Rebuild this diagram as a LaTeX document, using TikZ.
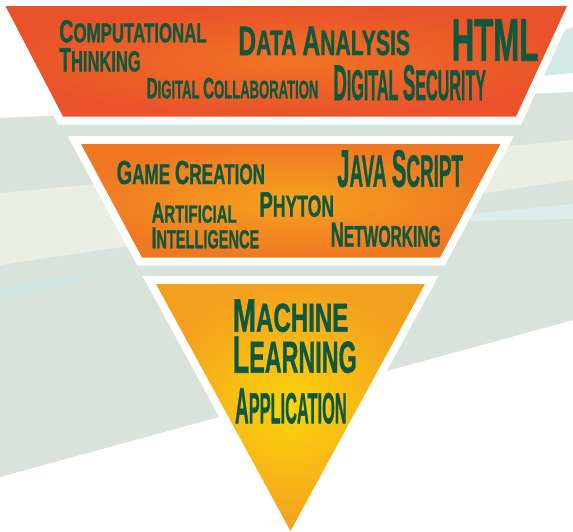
\documentclass[tikz,border=0pt]{standalone}
\usepackage{fontspec}
\usepackage{graphicx}
\newfontfamily\hfont{Liberation Sans}[BoldFeatures={FakeBold=1.2}]
\definecolor{tgreen}{RGB}{14,88,62}
\definecolor{bggrey}{HTML}{D8E3DC}
\definecolor{bglight}{HTML}{E9EFE3}
\definecolor{bgcyan}{HTML}{D3EAE6}
\definecolor{streak}{HTML}{CFE6E3}
\definecolor{rAin}{HTML}{F27324}
\definecolor{rAout}{HTML}{E9522A}
\definecolor{rBin}{HTML}{F7A21F}
\definecolor{rBout}{HTML}{EF7823}
\definecolor{rCin}{HTML}{FCD40B}
\definecolor{rCout}{HTML}{F4A01F}
\newcommand\Bg[1]{{\fontsize{12}{12}\selectfont #1}}
\newcommand\fitto[3]{\resizebox{#1pt}{#2pt}{\fontsize{10.3}{12}\selectfont #3}}
\tikzset{
  lbl/.style={anchor=north west, inner sep=0pt, outer sep=0pt, text=tgreen, font=\hfont\bfseries},
  rim/.style={draw=white, line width=16pt, line join=miter},
}
\begin{document}
\begin{tikzpicture}[x=1pt,y=-1pt]
\useasboundingbox (0,0) rectangle (573,531);
\clip (0,0) rectangle (573,531);
\fill[white] (0,0) rectangle (573,531);
% background decoration
\fill[bggrey] (0,118) -- (573,92) -- (573,320) -- (0,477) -- cycle;
\fill[bglight] (0,193) -- (573,140) -- (573,180) -- (0,265) -- cycle;
\fill[streak] (0,288) -- (112,271) -- (0,300) -- cycle;
\fill[streak!70!white] (470,214) -- (573,204) -- (573,219) -- (470,221) -- cycle;
\fill[bgcyan] (540,40) -- (573,27) -- (573,73) -- (540,76) -- cycle;
% corner points
\coordinate (a1) at (5.5,6);   \coordinate (a2) at (567,6);
\coordinate (a3) at (516,116.5); \coordinate (a4) at (63,116.5);
\coordinate (b1) at (81,144);  \coordinate (b2) at (500.5,144);
\coordinate (b3) at (440,257.5); \coordinate (b4) at (142,257.5);
\coordinate (c1) at (156,284); \coordinate (c2) at (425,284);
\coordinate (c3) at (290.5,531);
% white rims
\path[rim] (a1) -- (a2) -- (a3) -- (a4) -- cycle;
\path[rim] (b1) -- (b2) -- (b3) -- (b4) -- cycle;
\path[rim] (c1) -- (c2) -- (c3) -- cycle;
% shaded levels
\shade[inner color=rAin, outer color=rAout] (a1) -- (a2) -- (a3) -- (a4) -- cycle;
\shade[inner color=rBin, outer color=rBout] (b1) -- (b2) -- (b3) -- (b4) -- cycle;
\shade[inner color=rCin, outer color=rCout] (c1) -- (c2) -- (c3) -- cycle;
% top level texts
\node[lbl] (comp) at (59.3,20) {\fitto{147.4}{22.3}{\Bg{C}OMPUTATIONAL}};
\node[lbl] (think) at (59.3,48) {\fitto{81.4}{23.5}{\Bg{T}HINKING}};
\node[lbl] (data) at (238.3,26.7) {\fitto{171.7}{28.3}{\Bg{D}ATA \Bg{A}NALYSIS}};
\node[lbl] (html) at (451.7,19.3) {\fitto{86.6}{41.4}{\Bg{HTML}}};
\node[lbl] (collab) at (146.7,77.7) {\fitto{171.6}{20.6}{\Bg{D}IGITAL \Bg{C}OLLABORATION}};
\node[lbl] (secur) at (333.3,65) {\fitto{152.7}{35}{\Bg{D}IGITAL \Bg{S}ECURITY}};
% middle level texts
\node[lbl] (game) at (116.7,160.7) {\fitto{148.3}{23.3}{\Bg{G}AME \Bg{C}REATION}};
\node[lbl] (java) at (337.3,150) {\fitto{125.7}{36.7}{\Bg{J}AVA \Bg{S}CRIPT}};
\node[lbl] (phyton) at (259.3,192.3) {\fitto{74.7}{24.4}{\Bg{P}HYTON}};
\node[lbl] (artif) at (151.7,202.7) {\fitto{85}{20}{\Bg{A}RTIFICIAL}};
\node[lbl] (intel) at (151.7,227.3) {\fitto{107.6}{21}{\Bg{I}NTELLIGENCE}};
\node[lbl] (netw) at (330.7,222.7) {\fitto{110}{24}{\Bg{N}ETWORKING}};
% bottom level texts
\node[lbl] (mach) at (232.7,299.3) {\fitto{115.6}{32.4}{\Bg{M}ACHINE}};
\node[lbl] (learn) at (232.7,336.7) {\fitto{124}{36}{\Bg{L}EARNING}};
\node[lbl] (appl) at (235,388.3) {\fitto{111.7}{35}{\Bg{A}PPLICATION}};
\end{tikzpicture}
\end{document}
